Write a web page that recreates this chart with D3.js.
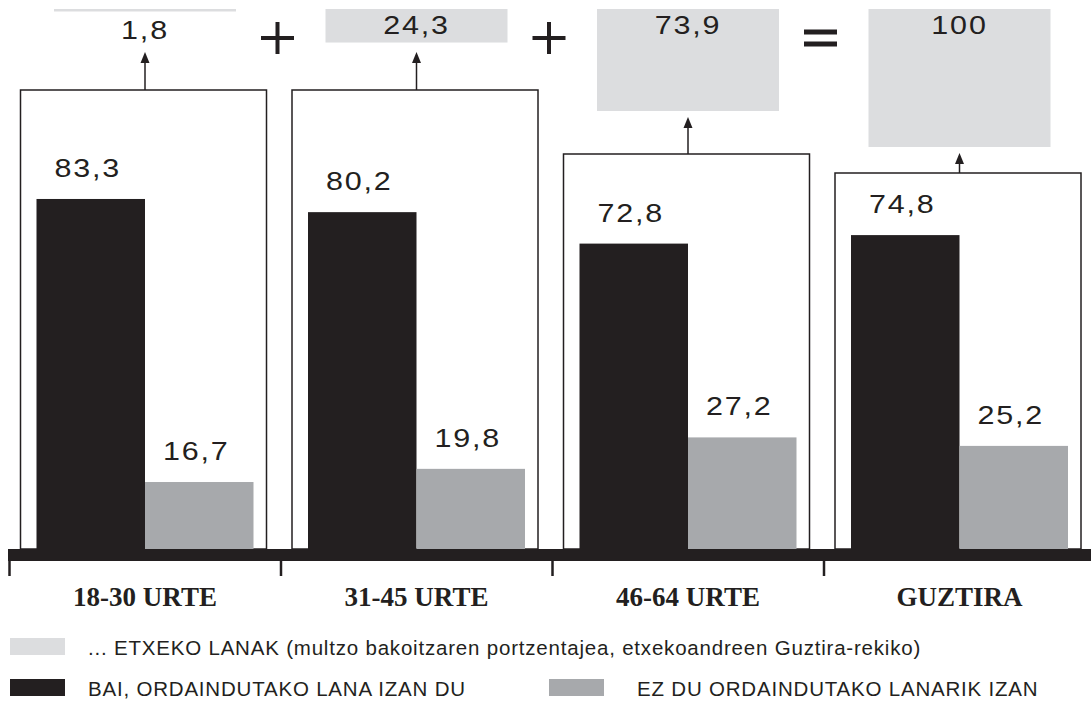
<!DOCTYPE html>
<html lang="eu">
<head>
<meta charset="utf-8">
<script src="https://cdn.jsdelivr.net/npm/d3@7"></script>
<style>
  body { margin: 0; background: #fff; }
  .num { font-family: "Liberation Sans", Arial, sans-serif; font-size: 25px; letter-spacing: 1.5px; fill: #231f20; }
  .cat { font-family: "Liberation Serif", "Times New Roman", serif; font-weight: bold; font-size: 27px; fill: #231f20; }
  .leg { font-family: "Liberation Sans", Arial, sans-serif; font-size: 20.5px; letter-spacing: 0.8px; fill: #231f20; }
</style>
</head>
<body>
<script>
// data
var groups = ["18-30 URTE", "31-45 URTE", "46-64 URTE", "GUZTIRA"];
var bai = [83.3, 80.2, 72.8, 74.8];      // ordaindutako lana izan du
var ez = [16.7, 19.8, 27.2, 25.2];       // ez du ordaindutako lanarik izan
var etxeko = [1.8, 24.3, 73.9, 100];     // etxeko lanak, % of the total
var operators = ["+", "+", "="];
var legendLabels = [
  "... ETXEKO LANAK (multzo bakoitzaren portzentajea, etxekoandreen Guztira-rekiko)",
  "BAI, ORDAINDUTAKO LANA IZAN DU",
  "EZ DU ORDAINDUTAKO LANARIK IZAN"
];

var w = 1091, h = 702;
var black = "#231f20", grey = "#a7a9ac", light = "#dcdddf";
var base = 549;
var boxTop = [90, 90, 154, 173];   // tops of the framing boxes

var fmt = function(d) { return String(d).replace(".", ","); };

var svg = d3.select("body").append("svg")
  .attr("width", w)
  .attr("height", h);

// scales
var x = d3.scaleBand().domain(groups).range([9, 9 + 4 * 271.5]).padding(0);
var inner = d3.scaleBand().domain(["bai", "ez"]).range([27.5, 244.5]).padding(0);
var y = d3.scaleLinear().domain([0, 100]).range([553, 128]);
var hTop = d3.scaleLinear().domain([0, 100]).range([0, 138]);
var mid = function(g) { return x(g) + inner("ez"); };

// wide number labels (the original face is an extended grotesque)
function numLabel(cx, cy, txt) {
  svg.append("text")
    .attr("class", "num")
    .attr("transform", "translate(" + cx + "," + cy + ") scale(1.22,1)")
    .attr("text-anchor", "middle")
    .text(txt);
}

// framing boxes
svg.selectAll("rect.box")
  .data(groups)
  .enter().append("rect")
  .attr("class", "box")
  .attr("x", function(d) { return x(d) + 11.5; })
  .attr("y", function(d, i) { return boxTop[i]; })
  .attr("width", 246)
  .attr("height", function(d, i) { return base - boxTop[i]; })
  .attr("fill", "#fff")
  .attr("stroke", black)
  .attr("stroke-width", 1.5);

// bars
var series = [{key: "bai", values: bai, color: black}, {key: "ez", values: ez, color: grey}];
series.forEach(function(s) {
  svg.selectAll("rect.bar-" + s.key)
    .data(s.values)
    .enter().append("rect")
    .attr("class", "bar-" + s.key)
    .attr("x", function(d, i) { return x(groups[i]) + inner(s.key); })
    .attr("y", function(d) { return y(d); })
    .attr("width", inner.bandwidth())
    .attr("height", function(d) { return y(0) - y(d); })
    .attr("fill", s.color);

  s.values.forEach(function(d, i) {
    numLabel(x(groups[i]) + inner(s.key) + inner.bandwidth() / 2 - 3, y(d) - 22, fmt(d));
  });
});

// etxeko lanak blocks on top
svg.selectAll("rect.top")
  .data(etxeko)
  .enter().append("rect")
  .attr("class", "top")
  .attr("x", function(d, i) { return mid(groups[i]) - 91; })
  .attr("y", 9)
  .attr("width", 182)
  .attr("height", function(d) { return hTop(d); })
  .attr("fill", light);

etxeko.forEach(function(d, i) {
  numLabel(mid(groups[i]), hTop(d) < 20 ? 39 : 34, fmt(d));
});

// arrows from each box to its block
etxeko.forEach(function(d, i) {
  var cx = mid(groups[i]);
  var tip = Math.max(9 + hTop(d), 46) + 6;
  svg.append("line")
    .attr("x1", cx).attr("x2", cx)
    .attr("y1", boxTop[i]).attr("y2", tip + 8)
    .attr("stroke", black)
    .attr("stroke-width", 1.5);
  svg.append("path")
    .attr("d", "M" + cx + "," + tip + " L" + (cx - 4.5) + "," + (tip + 11) + " L" + (cx + 4.5) + "," + (tip + 11) + "Z")
    .attr("fill", black);
});

// + + = between the blocks
operators.forEach(function(op, i) {
  var cx = x(groups[i + 1]) - 3, cy = 38;
  if (op === "+") {
    svg.append("path")
      .attr("d", "M" + (cx - 16.5) + "," + cy + " H" + (cx + 16.5) + " M" + cx + "," + (cy - 16) + " V" + (cy + 16))
      .attr("stroke", black)
      .attr("stroke-width", 4);
  } else {
    svg.append("path")
      .attr("d", "M" + (cx - 16.5) + "," + (cy - 6) + " H" + (cx + 16.5) + " M" + (cx - 16.5) + "," + (cy + 6) + " H" + (cx + 16.5))
      .attr("stroke", black)
      .attr("stroke-width", 5);
  }
});

// thick base line and ticks
svg.append("rect")
  .attr("x", 8).attr("y", base)
  .attr("width", w - 8).attr("height", 12)
  .attr("fill", black);

svg.selectAll("line.tick")
  .data(groups)
  .enter().append("line")
  .attr("class", "tick")
  .attr("x1", function(d) { return x(d) + 0.5; })
  .attr("x2", function(d) { return x(d) + 0.5; })
  .attr("y1", base + 12)
  .attr("y2", base + 27)
  .attr("stroke", black)
  .attr("stroke-width", 2.5);

svg.selectAll("text.cat")
  .data(groups)
  .enter().append("text")
  .attr("class", "cat")
  .attr("x", function(d) { return mid(d); })
  .attr("y", 606)
  .attr("text-anchor", "middle")
  .text(function(d) { return d; });

// legend
var legend = [
  {label: legendLabels[0], color: light, x: 10, y: 638},
  {label: legendLabels[1], color: black, x: 10, y: 679},
  {label: legendLabels[2], color: grey, x: 549, y: 679}
];
legend.forEach(function(l) {
  svg.append("rect")
    .attr("x", l.x).attr("y", l.y)
    .attr("width", 55).attr("height", 17)
    .attr("fill", l.color);
  svg.append("text")
    .attr("class", "leg")
    .attr("x", l.x + (l.x > 100 ? 88 : 78))
    .attr("y", l.y + 17)
    .text(l.label);
});
</script>
</body>
</html>
